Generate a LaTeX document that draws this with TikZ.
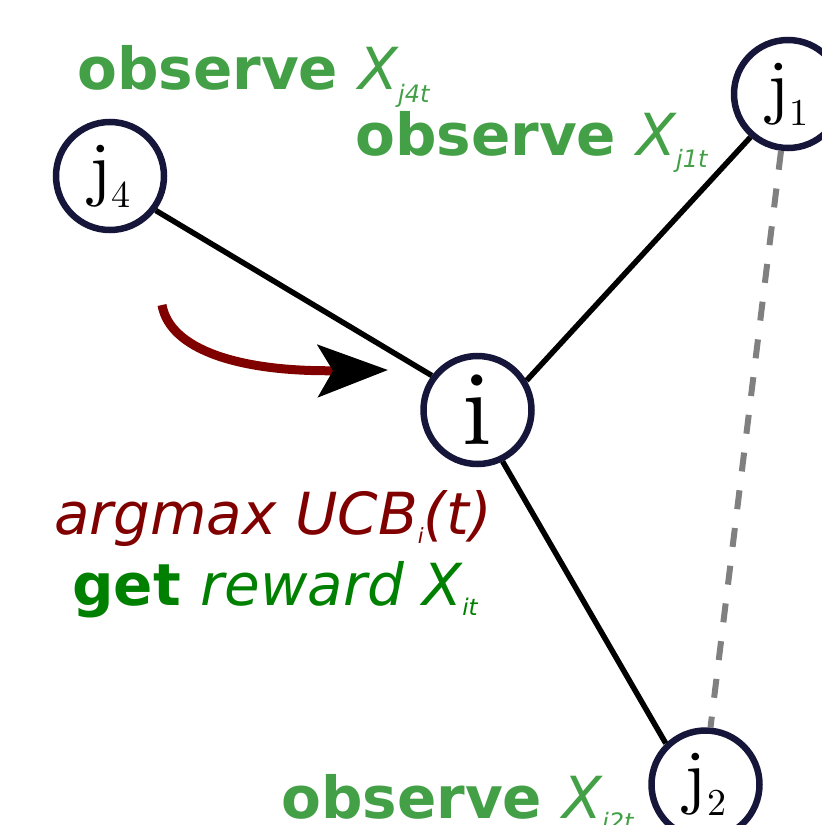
\documentclass[tikz,border=0pt]{standalone}
\usepackage{fontspec}
\newfontfamily\dv{DejaVu Sans}
\newfontfamily\cmten{lmroman10-regular.otf}
\usetikzlibrary{arrows.meta}
\definecolor{obsgreen}{RGB}{67,160,71}
\definecolor{rwgreen}{RGB}{0,128,0}
\definecolor{ucbred}{RGB}{128,0,0}
\definecolor{navy}{RGB}{22,22,58}
\begin{document}
\begin{tikzpicture}[x=1pt,y=-1pt,
  agent/.style={circle,draw=navy,line width=6.5pt,minimum size=108pt,inner sep=0pt,font=\cmten\fontsize{72}{72}\selectfont},
  link/.style={line width=5.5pt,black},
  friend/.style={line width=6pt,gray,dash pattern=on 19pt off 19pt},
  lbl/.style={anchor=base west,inner sep=0pt,font=\dv\fontsize{58}{60}\selectfont},
  choose/.style={line width=9pt,ucbred,-{Stealth[length=70pt,width=52pt,inset=15pt,black]}}]
\useasboundingbox (0,0) rectangle (822,825);
\clip (0,0) rectangle (822,825);
\fill[white] (0,0) rectangle (822,825);

\node[agent] (j4) at (110,176) {j\raisebox{-15pt}{\fontsize{38}{38}\selectfont 4}};
\node[agent] (j1) at (788,94) {j\raisebox{-15pt}{\fontsize{38}{38}\selectfont 1}};
\node[agent] (j2) at (705.5,784.5) {j\raisebox{-15pt}{\fontsize{38}{38}\selectfont 2}};
\node[agent,font=\cmten\fontsize{106}{106}\selectfont] (i) at (477.5,410) {i};

\draw[link] (j4.-37) -- (i.143);
\draw[link] (i.31) -- (j1.-131);
\draw[link] (i.-64) -- (j2.134);
\draw[friend] (j1.-97) -- (j2.85);

\coordinate (a0) at (162,305);
\coordinate (a1) at (388,370);
\draw[choose] (a0) .. controls (170,350) and (240,372) .. (a1);

\node[lbl,text=obsgreen] (o4) at (77,89) {\bfseries observe \mdseries\itshape X\raisebox{-13pt}{\fontsize{24}{24}\selectfont j4t}};
\node[lbl,text=obsgreen] (o1) at (355,155) {\bfseries observe \mdseries\itshape X\raisebox{-12pt}{\fontsize{24}{24}\selectfont j1t}};
\node[lbl,text=obsgreen] (o2) at (281,818) {\bfseries observe \mdseries\itshape X\raisebox{-12pt}{\fontsize{24}{24}\selectfont j2t}};
\node[lbl,text=ucbred,font=\dv\itshape\fontsize{58}{60}\selectfont] (ucb) at (54,534) {argmax UCB\raisebox{-9pt}{\fontsize{21}{21}\selectfont i}(t)};
\node[lbl,text=rwgreen] (rw) at (72,605) {\bfseries get \mdseries\itshape reward X\raisebox{-10pt}{\fontsize{23}{23}\selectfont it}};
\end{tikzpicture}
\end{document}
